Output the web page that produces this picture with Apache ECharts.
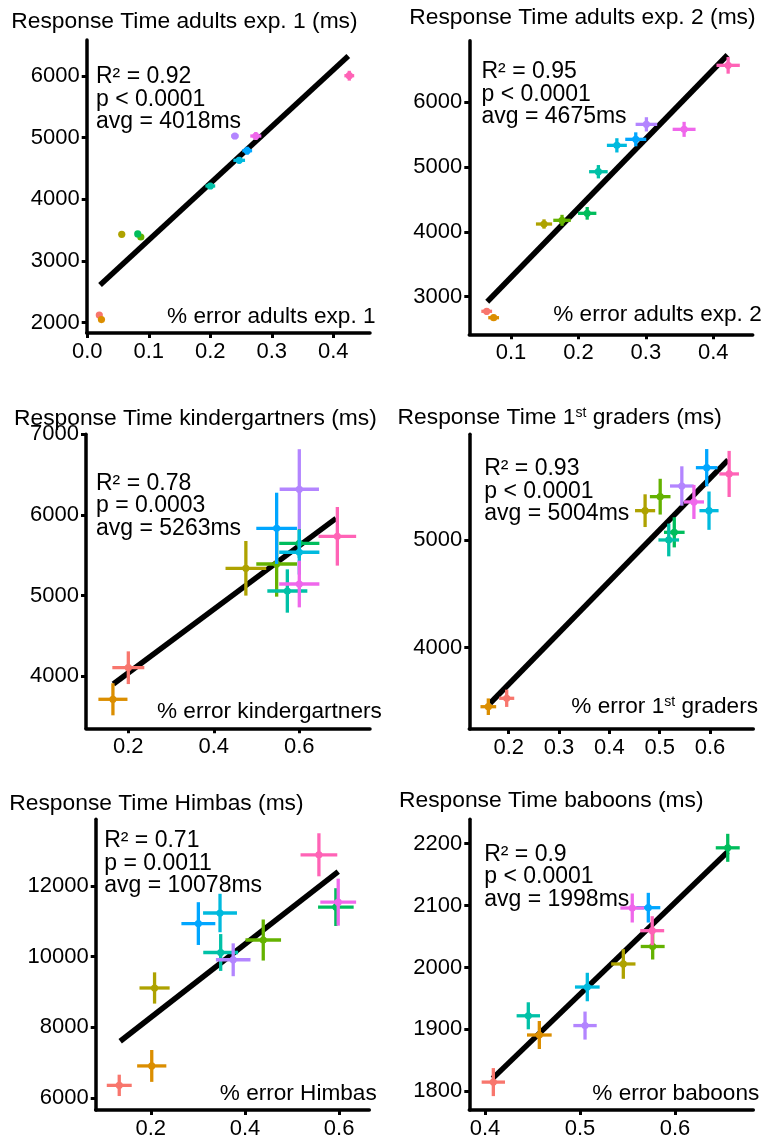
<!DOCTYPE html>
<html>
<head>
<meta charset="utf-8">
<script src="https://cdn.jsdelivr.net/npm/echarts@6/dist/echarts.min.js"></script>
<style>
html,body{margin:0;padding:0;background:#fff;}
#chart{width:764px;height:1140px;}
</style>
</head>
<body>
<div id="chart"></div>
<script>
// ---- colours (one per group) ----
var groupColors = ['#F8766D','#DB8E00','#AEA200','#64B200','#00BD5C','#00C1A7','#00BADE','#00A6FF','#B385FF','#EF67EB','#FF63B6'];

// ---- panel 1: adults exp. 1 ----
var p1X    = [0.0195, 0.023, 0.056, 0.087, 0.082, 0.200, 0.247, 0.260, 0.240, 0.274, 0.426];
var p1Y    = [2125, 2050, 3433, 3390, 3440, 4217, 4633, 4789, 5027, 5027, 6005];
var p1XErr = [0.002, 0.002, 0.002, 0.002, 0.002, 0.008, 0.0095, 0.008, 0.006, 0.009, 0.008];
var p1YErr = [20, 20, 20, 20, 20, 50, 55, 65, 50, 65, 80];
var p1FitX = [0.0207, 0.4244];
var p1FitY = [2611, 6325];
var p1XTicks = [0, 0.1, 0.2, 0.3, 0.4];
var p1XTickLabels = ['0.0', '0.1', '0.2', '0.3', '0.4'];
var p1YTicks = [2000, 3000, 4000, 5000, 6000];
var p1YTickLabels = ['2000', '3000', '4000', '5000', '6000'];

// ---- panel 2: adults exp. 2 ----
var p2X    = [0.064, 0.0743, 0.149, 0.1757, 0.213, 0.2296, 0.257, 0.285, 0.3008, 0.3567, 0.422];
var p2Y    = [2775, 2676, 4122, 4179, 4287, 4929, 5336, 5429, 5660, 5583, 6571];
var p2XErr = [0.008, 0.008, 0.012, 0.013, 0.0136, 0.0138, 0.0148, 0.0156, 0.016, 0.017, 0.0173];
var p2YErr = [50, 45, 72, 85, 98, 103, 110, 108, 110, 116, 129];
var p2FitX = [0.0648, 0.421];
var p2FitY = [2923, 6730];
var p2XTicks = [0.1, 0.2, 0.3, 0.4];
var p2XTickLabels = ['0.1', '0.2', '0.3', '0.4'];
var p2YTicks = [3000, 4000, 5000, 6000];
var p2YTickLabels = ['3000', '4000', '5000', '6000'];

// ---- panel 3: kindergartners ----
var p3X    = [0.200, 0.164, 0.475, 0.547, 0.600, 0.572, 0.600, 0.547, 0.600, 0.600, 0.689];
var p3Y    = [4103, 3711, 5337, 5390, 5647, 5055, 5536, 5833, 6318, 5142, 5734];
var p3XErr = [0.0374, 0.034, 0.0476, 0.0476, 0.047, 0.0468, 0.047, 0.0476, 0.046, 0.047, 0.044];
var p3YErr = [203, 199, 339, 405, 180, 269, 277, 442, 497, 290, 364];
var p3FitX = [0.165, 0.686];
var p3FitY = [3901, 5957];
var p3XTicks = [0.2, 0.4, 0.6];
var p3XTickLabels = ['0.2', '0.4', '0.6'];
var p3YTicks = [4000, 5000, 6000, 7000];
var p3YTickLabels = ['4000', '5000', '6000', '7000'];

// ---- panel 4: 1st graders ----
var p4X    = [0.196, 0.1595, 0.471, 0.501, 0.529, 0.518, 0.598, 0.5934, 0.544, 0.568, 0.638];
var p4Y    = [3530, 3452, 5272, 5402, 5071, 5000, 5272, 5671, 5501, 5353, 5613];
var p4XErr = [0.015, 0.0156, 0.02, 0.0205, 0.0205, 0.0205, 0.019, 0.0215, 0.0235, 0.02, 0.0195];
var p4YErr = [80, 77, 152, 166, 140, 152, 178, 173, 183, 158, 214];
var p4FitX = [0.163, 0.636];
var p4FitY = [3484, 5743];
var p4XTicks = [0.2, 0.3, 0.4, 0.5, 0.6];
var p4XTickLabels = ['0.2', '0.3', '0.4', '0.5', '0.6'];
var p4YTicks = [4000, 5000];
var p4YTickLabels = ['4000', '5000'];

// ---- panel 5: Himbas ----
var p5X    = [0.133, 0.202, 0.208, 0.4388, 0.593, 0.3484, 0.347, 0.301, 0.375, 0.598, 0.557];
var p5Y    = [6354, 6904, 9109, 10466, 11397, 10113, 11230, 10931, 9907, 11537, 12877];
var p5XErr = [0.0265, 0.031, 0.032, 0.0378, 0.0378, 0.037, 0.036, 0.036, 0.0367, 0.038, 0.039];
var p5YErr = [302, 451, 442, 581, 535, 521, 544, 605, 465, 665, 609];
var p5FitX = [0.135, 0.598];
var p5FitY = [7602, 12402];
var p5XTicks = [0.2, 0.4, 0.6];
var p5XTickLabels = ['0.2', '0.4', '0.6'];
var p5YTicks = [6000, 8000, 10000, 12000];
var p5YTickLabels = ['6000', '8000', '10000', '12000'];

// ---- panel 6: baboons ----
var p6X    = [0.4088, 0.4572, 0.5456, 0.5765, 0.6555, 0.4456, 0.5077, 0.5719, 0.5053, 0.555, 0.576];
var p6Y    = [1815, 1891, 2005.6, 2033.8, 2193, 1922, 1968.4, 2096.4, 1906.2, 2095.9, 2059.3];
var p6XErr = [0.0123, 0.013, 0.0128, 0.0126, 0.0126, 0.0123, 0.013, 0.0126, 0.0123, 0.0125, 0.0126];
var p6YErr = [22.6, 22.6, 23.9, 21, 22.6, 21.8, 23, 24, 22.6, 23.4, 23.4];
var p6FitX = [0.4081, 0.6555];
var p6FitY = [1821, 2186.8];
var p6XTicks = [0.4, 0.5, 0.6];
var p6XTickLabels = ['0.4', '0.5', '0.6'];
var p6YTicks = [1800, 1900, 2000, 2100, 2200];
var p6YTickLabels = ['1800', '1900', '2000', '2100', '2200'];

// ---- texts ----
var panelTitles = [
  '{n|Response Time adults exp. 1 (ms)}',
  '{n|Response Time adults exp. 2 (ms)}',
  '{n|Response Time kindergartners (ms)}',
  '{n|Response Time 1}{s|st}{n| graders (ms)}',
  '{n|Response Time Himbas (ms)}',
  '{n|Response Time baboons (ms)}'
];
var panelStats = [
  'R\u00B2 = 0.92\np < 0.0001\navg = 4018ms',
  'R\u00B2 = 0.95\np < 0.0001\navg = 4675ms',
  'R\u00B2 = 0.78\np = 0.0003\navg = 5263ms',
  'R\u00B2 = 0.93\np < 0.0001\navg = 5004ms',
  'R\u00B2 = 0.71\np = 0.0011\navg = 10078ms',
  'R\u00B2 = 0.9\np < 0.0001\navg = 1998ms'
];
var panelXLabels = [
  '{n|% error adults exp. 1}',
  '{n|% error adults exp. 2}',
  '{n|% error kindergartners}',
  '{n|% error 1}{s|st}{n| graders}',
  '{n|% error Himbas}',
  '{n|% error baboons}'
];

// ---- layout (pixels) ----
var FONT = '"Liberation Sans", Arial, Helvetica, sans-serif';
var layout = [
  {grid:{left:86.7, top:40,    width:283.3, height:293},   xr:[-0.001, 0.4597], yr:[1833, 6584],
   title:{left:11.3, top:11}, stats:{left:96, top:65.5}, xlab:{right:388.5, top:305.3}},
  {grid:{left:469.3, top:40.7, width:283.4, height:293.6}, xr:[0.0382, 0.4584], yr:[2420, 6951],
   title:{left:409.3, top:7}, stats:{left:481.5, top:60.5}, xlab:{right:2.3, top:303.7}},
  {grid:{left:86, top:434.3,   width:284, height:294},     xr:[0.101, 0.7654], yr:[3351, 7000],
   title:{left:14, top:407.7}, stats:{left:96, top:472}, xlab:{left:157, top:700.3}},
  {grid:{left:469.3, top:434.3, width:284, height:294.7},  xr:[0.1217, 0.686], yr:[3245, 5981],
   title:{left:397.6, top:406.3}, stats:{left:484.2, top:457.9}, xlab:{right:6, top:695.3}},
  {grid:{left:95.7, top:819.3,  width:273.6, height:294.7}, xr:[0.083, 0.664], yr:[5657, 13881],
   title:{left:9.3, top:792.7}, stats:{left:104.2, top:829.5}, xlab:{right:387.3, top:1082.7}},
  {grid:{left:469.3, top:819.3, width:284, height:294.7},  xr:[0.3835, 0.6824], yr:[1770, 2239],
   title:{left:399, top:789.3}, stats:{left:484.2, top:843.2}, xlab:{right:4.7, top:1082.7}}
];

var panels = [
  {x:p1X, y:p1Y, xe:p1XErr, ye:p1YErr, fx:p1FitX, fy:p1FitY, xt:p1XTicks, xtl:p1XTickLabels, yt:p1YTicks, ytl:p1YTickLabels},
  {x:p2X, y:p2Y, xe:p2XErr, ye:p2YErr, fx:p2FitX, fy:p2FitY, xt:p2XTicks, xtl:p2XTickLabels, yt:p2YTicks, ytl:p2YTickLabels},
  {x:p3X, y:p3Y, xe:p3XErr, ye:p3YErr, fx:p3FitX, fy:p3FitY, xt:p3XTicks, xtl:p3XTickLabels, yt:p3YTicks, ytl:p3YTickLabels},
  {x:p4X, y:p4Y, xe:p4XErr, ye:p4YErr, fx:p4FitX, fy:p4FitY, xt:p4XTicks, xtl:p4XTickLabels, yt:p4YTicks, ytl:p4YTickLabels},
  {x:p5X, y:p5Y, xe:p5XErr, ye:p5YErr, fx:p5FitX, fy:p5FitY, xt:p5XTicks, xtl:p5XTickLabels, yt:p5YTicks, ytl:p5YTickLabels},
  {x:p6X, y:p6Y, xe:p6XErr, ye:p6YErr, fx:p6FitX, fy:p6FitY, xt:p6XTicks, xtl:p6XTickLabels, yt:p6YTicks, ytl:p6YTickLabels}
];

function labelFor(ticks, labels) {
  return function (v) {
    var best = -1, bd = Infinity;
    for (var i = 0; i < ticks.length; i++) {
      var d = Math.abs(ticks[i] - v);
      if (d < bd) { bd = d; best = i; }
    }
    return bd < 1e-6 * Math.max(1, Math.abs(v)) ? labels[best] : '';
  };
}

var AXIS_W = 3.5, ERR_W = 3.3, DOT_R = 3.6;
var TITLE_FS = 22.8, XLAB_FS = 22.6;

var grids = [], xAxes = [], yAxes = [], series = [], titles = [];
layout.forEach(function (L, i) {
  var P = panels[i];
  grids.push(Object.assign({containLabel:false}, L.grid));
  var axisCommon = {
    type: 'value', gridIndex: i, scale: true,
    axisLine: {show: true, onZero: false, lineStyle: {color: '#000', width: AXIS_W}},
    splitLine: {show: false}
  };
  xAxes.push(Object.assign({}, axisCommon, {
    min: L.xr[0], max: L.xr[1],
    axisTick: {show: true, length: 5, lineStyle: {color: '#000', width: 3}, customValues: P.xt},
    axisLabel: {show: true, customValues: P.xt, formatter: labelFor(P.xt, P.xtl), margin: 8,
                fontFamily: FONT, fontSize: 22, color: '#000', hideOverlap: false}
  }));
  yAxes.push(Object.assign({}, axisCommon, {
    min: L.yr[0], max: L.yr[1],
    axisTick: {show: true, length: 5, lineStyle: {color: '#000', width: 3}, customValues: P.yt},
    axisLabel: {show: true, customValues: P.yt, formatter: labelFor(P.yt, P.ytl), margin: 7,
                fontFamily: FONT, fontSize: 22, color: '#000', hideOverlap: false}
  }));

  // regression line (under the points)
  series.push({
    type: 'line', xAxisIndex: i, yAxisIndex: i, z: 1,
    data: [[P.fx[0], P.fy[0]], [P.fx[1], P.fy[1]]],
    symbol: 'none', silent: true, animation: false,
    lineStyle: {color: '#000', width: 5.5, cap: 'butt'}
  });

  // points with horizontal/vertical error bars
  var data = P.x.map(function (xv, k) { return [xv, P.y[k], P.xe[k], P.ye[k], k]; });
  series.push({
    type: 'custom', xAxisIndex: i, yAxisIndex: i, z: 2, clip: false, animation: false,
    data: data,
    renderItem: function (params, api) {
      var x = api.value(0), y = api.value(1), xe = api.value(2), ye = api.value(3);
      var col = groupColors[api.value(4)];
      var c = api.coord([x, y]);
      var l = api.coord([x - xe, y]), r = api.coord([x + xe, y]);
      var t = api.coord([x, y + ye]), b = api.coord([x, y - ye]);
      var ls = {stroke: col, lineWidth: ERR_W, lineCap: 'butt'};
      return {
        type: 'group',
        children: [
          {type: 'line', shape: {x1: l[0], y1: l[1], x2: r[0], y2: r[1]}, style: ls},
          {type: 'line', shape: {x1: t[0], y1: t[1], x2: b[0], y2: b[1]}, style: ls},
          {type: 'circle', shape: {cx: c[0], cy: c[1], r: DOT_R}, style: {fill: col}}
        ]
      };
    }
  });

  var richT = {
    n: {fontFamily: FONT, fontSize: TITLE_FS, color: '#000', lineHeight: 22},
    s: {fontFamily: FONT, fontSize: 14, color: '#000', lineHeight: 14, verticalAlign: 'top'}
  };
  var richX = {
    n: {fontFamily: FONT, fontSize: XLAB_FS, color: '#000', lineHeight: 22},
    s: {fontFamily: FONT, fontSize: 14, color: '#000', lineHeight: 14, verticalAlign: 'top'}
  };
  titles.push({
    text: panelTitles[i], left: L.title.left, top: L.title.top, padding: 0,
    textStyle: {fontFamily: FONT, fontSize: TITLE_FS, fontWeight: 'normal', color: '#000', lineHeight: 22, rich: richT}
  });
  titles.push({
    text: panelStats[i], left: L.stats.left, top: L.stats.top, padding: 0,
    textStyle: {fontFamily: FONT, fontSize: 23, fontWeight: 'normal', color: '#000', lineHeight: 22.5}
  });
  var xl = {text: panelXLabels[i], top: L.xlab.top, padding: 0,
    textStyle: {fontFamily: FONT, fontSize: XLAB_FS, fontWeight: 'normal', color: '#000', lineHeight: 22, rich: richX}};
  if (L.xlab.right !== undefined) xl.right = L.xlab.right; else xl.left = L.xlab.left;
  titles.push(xl);
});

var chart = echarts.init(document.getElementById('chart'), null, {renderer: 'canvas', width: 764, height: 1140});
chart.setOption({
  backgroundColor: '#fff',
  animation: false,
  title: titles,
  grid: grids,
  xAxis: xAxes,
  yAxis: yAxes,
  series: series
});
</script>
</body>
</html>
